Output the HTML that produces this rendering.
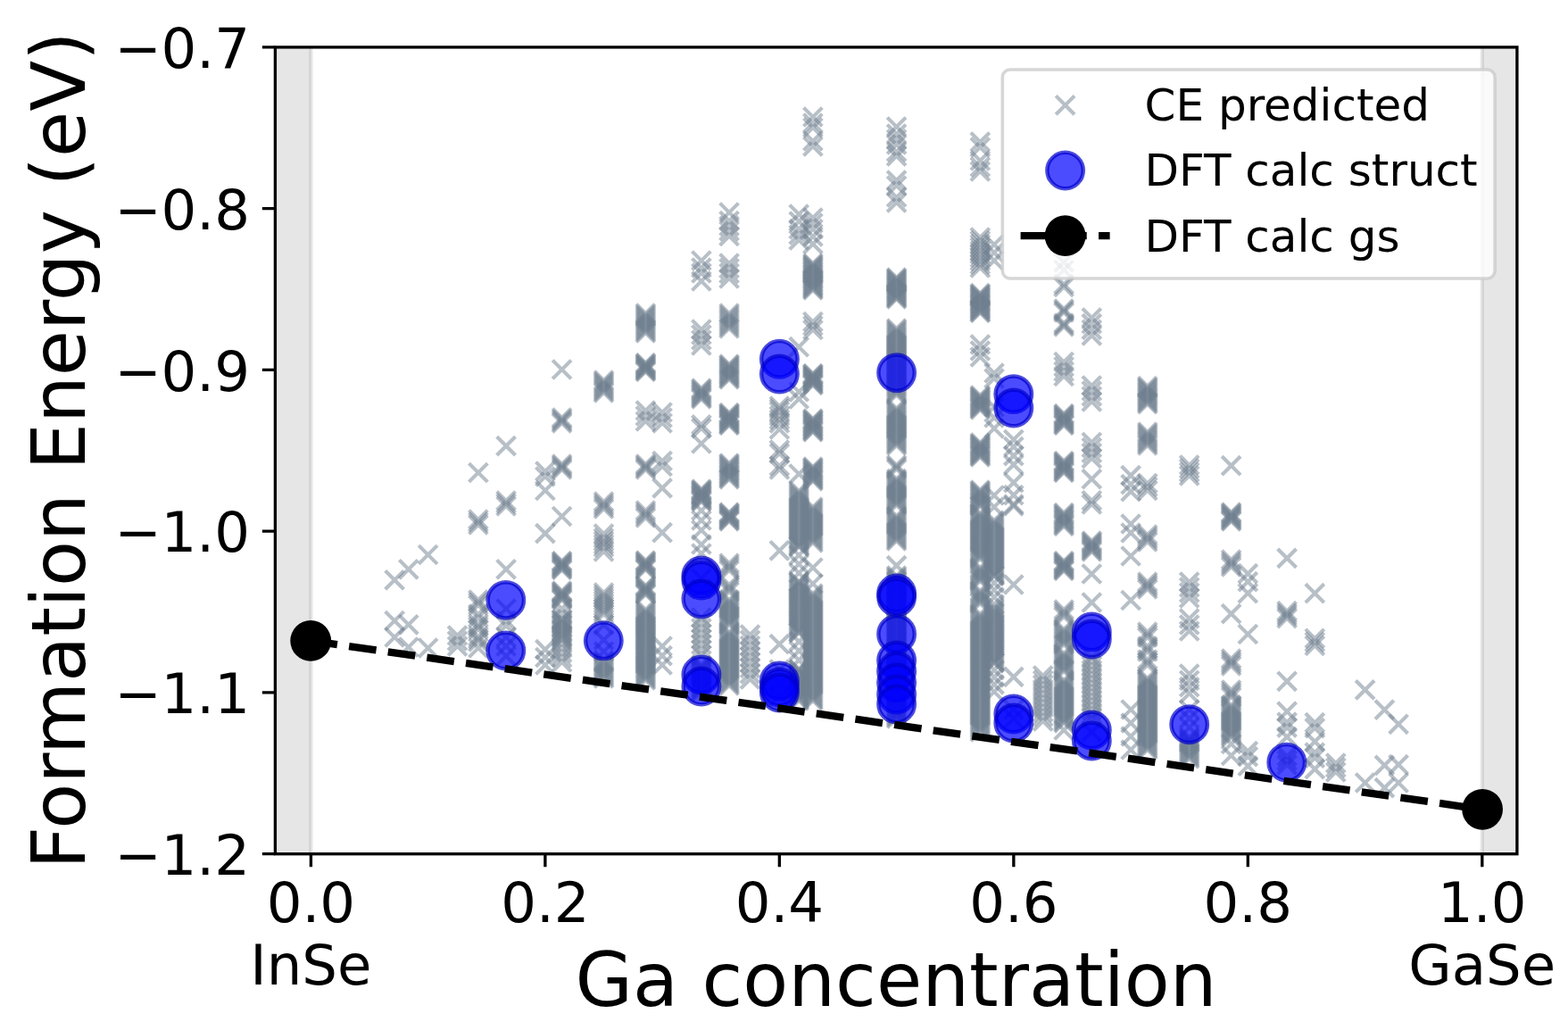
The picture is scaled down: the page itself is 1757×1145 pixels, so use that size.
<!DOCTYPE html>
<html><head><meta charset="utf-8"><title>Formation Energy vs Ga concentration</title>
<style>html,body{margin:0;padding:0;background:#fff;}svg{display:block;}</style>
</head><body>
<svg width="1757" height="1145" viewBox="0 0 1757 1145">
<defs><clipPath id="ax"><rect x="308.40" y="52.90" width="1391.50" height="903.80"/></clipPath>
<path id="m" d="M-10.4,-10.4L10.4,10.4M-10.4,10.4L10.4,-10.4"/>
</defs>
<rect width="1757" height="1145" fill="#fff"/>
<g clip-path="url(#ax)">
<rect x="303.4" y="47.9" width="45.0" height="913.8000000000001" fill="#808080" fill-opacity="0.2" stroke="#808080" stroke-opacity="0.2" stroke-width="4.17"/>
<rect x="1660.8" y="47.9" width="44.100000000000136" height="913.8000000000001" fill="#808080" fill-opacity="0.2" stroke="#808080" stroke-opacity="0.2" stroke-width="4.17"/>
<g stroke="#708090" stroke-opacity="0.5" stroke-width="4.17" fill="none">
<use href="#m" x="442.1" y="649.8"/>
<use href="#m" x="442.1" y="695.5"/>
<use href="#m" x="442.1" y="714.0"/>
<use href="#m" x="457.8" y="637.8"/>
<use href="#m" x="457.8" y="699.8"/>
<use href="#m" x="457.8" y="725.0"/>
<use href="#m" x="479.6" y="621.5"/>
<use href="#m" x="479.6" y="726.0"/>
<use href="#m" x="512.5" y="712.0"/>
<use href="#m" x="512.5" y="718.0"/>
<use href="#m" x="512.5" y="724.0"/>
<use href="#m" x="535.9" y="529.5"/>
<use href="#m" x="535.9" y="582.0"/>
<use href="#m" x="535.9" y="585.0"/>
<use href="#m" x="535.9" y="588.0"/>
<use href="#m" x="535.9" y="672.0"/>
<use href="#m" x="535.9" y="675.0"/>
<use href="#m" x="535.9" y="678.0"/>
<use href="#m" x="535.9" y="688.0"/>
<use href="#m" x="535.9" y="692.0"/>
<use href="#m" x="535.9" y="699.0"/>
<use href="#m" x="535.9" y="702.0"/>
<use href="#m" x="535.9" y="705.0"/>
<use href="#m" x="535.9" y="713.0"/>
<use href="#m" x="535.9" y="716.0"/>
<use href="#m" x="535.9" y="719.0"/>
<use href="#m" x="535.9" y="726.0"/>
<use href="#m" x="567.1" y="499.6"/>
<use href="#m" x="567.1" y="561.0"/>
<use href="#m" x="567.1" y="564.0"/>
<use href="#m" x="567.1" y="567.0"/>
<use href="#m" x="567.1" y="637.8"/>
<use href="#m" x="567.1" y="682.0"/>
<use href="#m" x="567.1" y="695.0"/>
<use href="#m" x="567.1" y="701.0"/>
<use href="#m" x="567.1" y="714.0"/>
<use href="#m" x="567.1" y="724.0"/>
<use href="#m" x="567.1" y="735.0"/>
<use href="#m" x="610.9" y="528.0"/>
<use href="#m" x="610.9" y="534.0"/>
<use href="#m" x="610.9" y="549.5"/>
<use href="#m" x="610.9" y="597.6"/>
<use href="#m" x="610.9" y="727.7"/>
<use href="#m" x="610.9" y="736.5"/>
<use href="#m" x="610.9" y="745.0"/>
<use href="#m" x="629.6" y="414.0"/>
<use href="#m" x="629.6" y="468.0"/>
<use href="#m" x="629.6" y="470.0"/>
<use href="#m" x="629.6" y="472.0"/>
<use href="#m" x="629.6" y="474.0"/>
<use href="#m" x="629.6" y="520.0"/>
<use href="#m" x="629.6" y="522.0"/>
<use href="#m" x="629.6" y="524.0"/>
<use href="#m" x="629.6" y="526.0"/>
<use href="#m" x="629.6" y="578.5"/>
<use href="#m" x="629.6" y="628.5"/>
<use href="#m" x="629.6" y="629.9"/>
<use href="#m" x="629.6" y="631.4"/>
<use href="#m" x="629.6" y="632.8"/>
<use href="#m" x="629.6" y="634.2"/>
<use href="#m" x="629.6" y="635.6"/>
<use href="#m" x="629.6" y="637.1"/>
<use href="#m" x="629.6" y="638.5"/>
<use href="#m" x="629.6" y="662.0"/>
<use href="#m" x="629.6" y="663.4"/>
<use href="#m" x="629.6" y="664.9"/>
<use href="#m" x="629.6" y="666.3"/>
<use href="#m" x="629.6" y="667.7"/>
<use href="#m" x="629.6" y="669.1"/>
<use href="#m" x="629.6" y="670.6"/>
<use href="#m" x="629.6" y="672.0"/>
<use href="#m" x="629.6" y="682.0"/>
<use href="#m" x="629.6" y="688.0"/>
<use href="#m" x="629.6" y="694.0"/>
<use href="#m" x="629.6" y="694.0"/>
<use href="#m" x="629.6" y="695.9"/>
<use href="#m" x="629.6" y="697.8"/>
<use href="#m" x="629.6" y="699.8"/>
<use href="#m" x="629.6" y="701.7"/>
<use href="#m" x="629.6" y="703.6"/>
<use href="#m" x="629.6" y="705.5"/>
<use href="#m" x="629.6" y="707.4"/>
<use href="#m" x="629.6" y="709.3"/>
<use href="#m" x="629.6" y="711.2"/>
<use href="#m" x="629.6" y="713.2"/>
<use href="#m" x="629.6" y="715.1"/>
<use href="#m" x="629.6" y="717.0"/>
<use href="#m" x="629.6" y="721.0"/>
<use href="#m" x="629.6" y="726.0"/>
<use href="#m" x="629.6" y="731.3"/>
<use href="#m" x="629.6" y="736.7"/>
<use href="#m" x="629.6" y="742.0"/>
<use href="#m" x="676.5" y="426.0"/>
<use href="#m" x="676.5" y="428.0"/>
<use href="#m" x="676.5" y="430.0"/>
<use href="#m" x="676.5" y="432.0"/>
<use href="#m" x="676.5" y="434.0"/>
<use href="#m" x="676.5" y="436.0"/>
<use href="#m" x="676.5" y="438.0"/>
<use href="#m" x="676.5" y="440.0"/>
<use href="#m" x="676.5" y="562.0"/>
<use href="#m" x="676.5" y="564.7"/>
<use href="#m" x="676.5" y="567.3"/>
<use href="#m" x="676.5" y="570.0"/>
<use href="#m" x="676.5" y="598.0"/>
<use href="#m" x="676.5" y="603.0"/>
<use href="#m" x="676.5" y="606.3"/>
<use href="#m" x="676.5" y="609.7"/>
<use href="#m" x="676.5" y="613.0"/>
<use href="#m" x="676.5" y="618.0"/>
<use href="#m" x="676.5" y="664.0"/>
<use href="#m" x="676.5" y="667.0"/>
<use href="#m" x="676.5" y="670.0"/>
<use href="#m" x="676.5" y="673.0"/>
<use href="#m" x="676.5" y="676.0"/>
<use href="#m" x="676.5" y="679.0"/>
<use href="#m" x="676.5" y="682.0"/>
<use href="#m" x="676.5" y="685.0"/>
<use href="#m" x="676.5" y="688.0"/>
<use href="#m" x="676.5" y="700.0"/>
<use href="#m" x="676.5" y="717.0"/>
<use href="#m" x="676.5" y="730.0"/>
<use href="#m" x="676.5" y="740.0"/>
<use href="#m" x="676.5" y="742.0"/>
<use href="#m" x="676.5" y="744.0"/>
<use href="#m" x="676.5" y="746.0"/>
<use href="#m" x="676.5" y="748.0"/>
<use href="#m" x="676.5" y="750.0"/>
<use href="#m" x="676.5" y="752.0"/>
<use href="#m" x="676.5" y="754.0"/>
<use href="#m" x="676.5" y="756.0"/>
<use href="#m" x="676.5" y="758.0"/>
<use href="#m" x="676.5" y="760.0"/>
<use href="#m" x="723.4" y="351.0"/>
<use href="#m" x="723.4" y="353.0"/>
<use href="#m" x="723.4" y="355.0"/>
<use href="#m" x="723.4" y="357.0"/>
<use href="#m" x="723.4" y="359.0"/>
<use href="#m" x="723.4" y="361.0"/>
<use href="#m" x="723.4" y="363.0"/>
<use href="#m" x="723.4" y="365.0"/>
<use href="#m" x="723.4" y="367.0"/>
<use href="#m" x="723.4" y="369.0"/>
<use href="#m" x="723.4" y="371.0"/>
<use href="#m" x="723.4" y="373.0"/>
<use href="#m" x="723.4" y="406.5"/>
<use href="#m" x="723.4" y="407.8"/>
<use href="#m" x="723.4" y="409.0"/>
<use href="#m" x="723.4" y="410.2"/>
<use href="#m" x="723.4" y="411.5"/>
<use href="#m" x="723.4" y="412.8"/>
<use href="#m" x="723.4" y="414.0"/>
<use href="#m" x="723.4" y="415.2"/>
<use href="#m" x="723.4" y="416.5"/>
<use href="#m" x="723.4" y="460.0"/>
<use href="#m" x="723.4" y="466.0"/>
<use href="#m" x="723.4" y="472.0"/>
<use href="#m" x="723.4" y="520.0"/>
<use href="#m" x="723.4" y="522.0"/>
<use href="#m" x="723.4" y="524.0"/>
<use href="#m" x="723.4" y="526.0"/>
<use href="#m" x="723.4" y="572.0"/>
<use href="#m" x="723.4" y="574.7"/>
<use href="#m" x="723.4" y="577.3"/>
<use href="#m" x="723.4" y="580.0"/>
<use href="#m" x="723.4" y="628.0"/>
<use href="#m" x="723.4" y="629.4"/>
<use href="#m" x="723.4" y="630.9"/>
<use href="#m" x="723.4" y="632.3"/>
<use href="#m" x="723.4" y="633.7"/>
<use href="#m" x="723.4" y="635.1"/>
<use href="#m" x="723.4" y="636.6"/>
<use href="#m" x="723.4" y="638.0"/>
<use href="#m" x="723.4" y="656.0"/>
<use href="#m" x="723.4" y="657.4"/>
<use href="#m" x="723.4" y="658.9"/>
<use href="#m" x="723.4" y="660.3"/>
<use href="#m" x="723.4" y="661.7"/>
<use href="#m" x="723.4" y="663.1"/>
<use href="#m" x="723.4" y="664.6"/>
<use href="#m" x="723.4" y="666.0"/>
<use href="#m" x="723.4" y="683.0"/>
<use href="#m" x="723.4" y="685.0"/>
<use href="#m" x="723.4" y="687.0"/>
<use href="#m" x="723.4" y="688.9"/>
<use href="#m" x="723.4" y="690.9"/>
<use href="#m" x="723.4" y="692.9"/>
<use href="#m" x="723.4" y="694.9"/>
<use href="#m" x="723.4" y="696.8"/>
<use href="#m" x="723.4" y="698.8"/>
<use href="#m" x="723.4" y="700.8"/>
<use href="#m" x="723.4" y="702.8"/>
<use href="#m" x="723.4" y="704.7"/>
<use href="#m" x="723.4" y="706.7"/>
<use href="#m" x="723.4" y="708.7"/>
<use href="#m" x="723.4" y="710.6"/>
<use href="#m" x="723.4" y="712.6"/>
<use href="#m" x="723.4" y="714.6"/>
<use href="#m" x="723.4" y="716.6"/>
<use href="#m" x="723.4" y="718.5"/>
<use href="#m" x="723.4" y="720.5"/>
<use href="#m" x="723.4" y="722.5"/>
<use href="#m" x="723.4" y="724.5"/>
<use href="#m" x="723.4" y="726.5"/>
<use href="#m" x="723.4" y="728.4"/>
<use href="#m" x="723.4" y="730.4"/>
<use href="#m" x="723.4" y="732.4"/>
<use href="#m" x="723.4" y="734.4"/>
<use href="#m" x="723.4" y="736.3"/>
<use href="#m" x="723.4" y="738.3"/>
<use href="#m" x="723.4" y="740.3"/>
<use href="#m" x="723.4" y="742.2"/>
<use href="#m" x="723.4" y="744.2"/>
<use href="#m" x="723.4" y="746.2"/>
<use href="#m" x="723.4" y="748.2"/>
<use href="#m" x="723.4" y="750.1"/>
<use href="#m" x="723.4" y="752.1"/>
<use href="#m" x="723.4" y="754.1"/>
<use href="#m" x="723.4" y="756.1"/>
<use href="#m" x="723.4" y="758.0"/>
<use href="#m" x="723.4" y="760.0"/>
<use href="#m" x="723.4" y="762.0"/>
<use href="#m" x="742.1" y="462.0"/>
<use href="#m" x="742.1" y="468.0"/>
<use href="#m" x="742.1" y="474.0"/>
<use href="#m" x="742.1" y="516.5"/>
<use href="#m" x="742.1" y="522.5"/>
<use href="#m" x="742.1" y="546.9"/>
<use href="#m" x="742.1" y="596.7"/>
<use href="#m" x="742.1" y="724.0"/>
<use href="#m" x="742.1" y="734.7"/>
<use href="#m" x="742.1" y="745.0"/>
<use href="#m" x="785.9" y="292.0"/>
<use href="#m" x="785.9" y="300.0"/>
<use href="#m" x="785.9" y="306.0"/>
<use href="#m" x="785.9" y="315.0"/>
<use href="#m" x="785.9" y="369.0"/>
<use href="#m" x="785.9" y="375.0"/>
<use href="#m" x="785.9" y="381.0"/>
<use href="#m" x="785.9" y="387.0"/>
<use href="#m" x="785.9" y="435.0"/>
<use href="#m" x="785.9" y="436.7"/>
<use href="#m" x="785.9" y="438.4"/>
<use href="#m" x="785.9" y="440.1"/>
<use href="#m" x="785.9" y="441.9"/>
<use href="#m" x="785.9" y="443.6"/>
<use href="#m" x="785.9" y="445.3"/>
<use href="#m" x="785.9" y="447.0"/>
<use href="#m" x="785.9" y="475.9"/>
<use href="#m" x="785.9" y="479.9"/>
<use href="#m" x="785.9" y="497.0"/>
<use href="#m" x="785.9" y="548.0"/>
<use href="#m" x="785.9" y="549.3"/>
<use href="#m" x="785.9" y="550.5"/>
<use href="#m" x="785.9" y="551.8"/>
<use href="#m" x="785.9" y="553.1"/>
<use href="#m" x="785.9" y="554.4"/>
<use href="#m" x="785.9" y="555.6"/>
<use href="#m" x="785.9" y="556.9"/>
<use href="#m" x="785.9" y="558.2"/>
<use href="#m" x="785.9" y="559.5"/>
<use href="#m" x="785.9" y="560.7"/>
<use href="#m" x="785.9" y="562.0"/>
<use href="#m" x="785.9" y="572.0"/>
<use href="#m" x="785.9" y="583.0"/>
<use href="#m" x="785.9" y="594.0"/>
<use href="#m" x="785.9" y="610.0"/>
<use href="#m" x="785.9" y="620.0"/>
<use href="#m" x="785.9" y="648.0"/>
<use href="#m" x="785.9" y="660.0"/>
<use href="#m" x="785.9" y="692.0"/>
<use href="#m" x="785.9" y="698.0"/>
<use href="#m" x="785.9" y="704.0"/>
<use href="#m" x="785.9" y="710.0"/>
<use href="#m" x="785.9" y="716.0"/>
<use href="#m" x="785.9" y="722.0"/>
<use href="#m" x="785.9" y="728.0"/>
<use href="#m" x="785.9" y="734.0"/>
<use href="#m" x="785.9" y="745.0"/>
<use href="#m" x="785.9" y="747.0"/>
<use href="#m" x="785.9" y="749.0"/>
<use href="#m" x="785.9" y="751.0"/>
<use href="#m" x="785.9" y="753.0"/>
<use href="#m" x="785.9" y="755.0"/>
<use href="#m" x="785.9" y="757.0"/>
<use href="#m" x="785.9" y="759.0"/>
<use href="#m" x="785.9" y="761.0"/>
<use href="#m" x="785.9" y="763.0"/>
<use href="#m" x="785.9" y="765.0"/>
<use href="#m" x="785.9" y="767.0"/>
<use href="#m" x="785.9" y="769.0"/>
<use href="#m" x="785.9" y="771.0"/>
<use href="#m" x="785.9" y="773.0"/>
<use href="#m" x="785.9" y="775.0"/>
<use href="#m" x="817.1" y="238.0"/>
<use href="#m" x="817.1" y="247.5"/>
<use href="#m" x="817.1" y="253.2"/>
<use href="#m" x="817.1" y="258.8"/>
<use href="#m" x="817.1" y="264.5"/>
<use href="#m" x="817.1" y="295.0"/>
<use href="#m" x="817.1" y="300.7"/>
<use href="#m" x="817.1" y="306.3"/>
<use href="#m" x="817.1" y="312.0"/>
<use href="#m" x="817.1" y="351.0"/>
<use href="#m" x="817.1" y="353.4"/>
<use href="#m" x="817.1" y="355.9"/>
<use href="#m" x="817.1" y="358.3"/>
<use href="#m" x="817.1" y="360.7"/>
<use href="#m" x="817.1" y="363.1"/>
<use href="#m" x="817.1" y="365.6"/>
<use href="#m" x="817.1" y="368.0"/>
<use href="#m" x="817.1" y="408.0"/>
<use href="#m" x="817.1" y="409.5"/>
<use href="#m" x="817.1" y="411.1"/>
<use href="#m" x="817.1" y="412.6"/>
<use href="#m" x="817.1" y="414.2"/>
<use href="#m" x="817.1" y="415.7"/>
<use href="#m" x="817.1" y="417.3"/>
<use href="#m" x="817.1" y="418.8"/>
<use href="#m" x="817.1" y="420.4"/>
<use href="#m" x="817.1" y="421.9"/>
<use href="#m" x="817.1" y="423.5"/>
<use href="#m" x="817.1" y="425.0"/>
<use href="#m" x="817.1" y="462.5"/>
<use href="#m" x="817.1" y="463.8"/>
<use href="#m" x="817.1" y="465.0"/>
<use href="#m" x="817.1" y="466.3"/>
<use href="#m" x="817.1" y="467.6"/>
<use href="#m" x="817.1" y="468.9"/>
<use href="#m" x="817.1" y="470.1"/>
<use href="#m" x="817.1" y="471.4"/>
<use href="#m" x="817.1" y="472.7"/>
<use href="#m" x="817.1" y="474.0"/>
<use href="#m" x="817.1" y="475.2"/>
<use href="#m" x="817.1" y="476.5"/>
<use href="#m" x="817.1" y="519.0"/>
<use href="#m" x="817.1" y="520.6"/>
<use href="#m" x="817.1" y="522.3"/>
<use href="#m" x="817.1" y="523.9"/>
<use href="#m" x="817.1" y="525.5"/>
<use href="#m" x="817.1" y="527.2"/>
<use href="#m" x="817.1" y="528.8"/>
<use href="#m" x="817.1" y="530.5"/>
<use href="#m" x="817.1" y="532.1"/>
<use href="#m" x="817.1" y="533.7"/>
<use href="#m" x="817.1" y="535.4"/>
<use href="#m" x="817.1" y="537.0"/>
<use href="#m" x="817.1" y="574.0"/>
<use href="#m" x="817.1" y="575.2"/>
<use href="#m" x="817.1" y="576.5"/>
<use href="#m" x="817.1" y="577.8"/>
<use href="#m" x="817.1" y="579.0"/>
<use href="#m" x="817.1" y="580.2"/>
<use href="#m" x="817.1" y="581.5"/>
<use href="#m" x="817.1" y="582.8"/>
<use href="#m" x="817.1" y="584.0"/>
<use href="#m" x="817.1" y="631.0"/>
<use href="#m" x="817.1" y="633.7"/>
<use href="#m" x="817.1" y="636.3"/>
<use href="#m" x="817.1" y="639.0"/>
<use href="#m" x="817.1" y="655.0"/>
<use href="#m" x="817.1" y="657.7"/>
<use href="#m" x="817.1" y="660.3"/>
<use href="#m" x="817.1" y="663.0"/>
<use href="#m" x="817.1" y="672.0"/>
<use href="#m" x="817.1" y="674.0"/>
<use href="#m" x="817.1" y="676.0"/>
<use href="#m" x="817.1" y="678.0"/>
<use href="#m" x="817.1" y="680.0"/>
<use href="#m" x="817.1" y="682.0"/>
<use href="#m" x="817.1" y="684.0"/>
<use href="#m" x="817.1" y="686.0"/>
<use href="#m" x="817.1" y="688.0"/>
<use href="#m" x="817.1" y="690.0"/>
<use href="#m" x="817.1" y="692.0"/>
<use href="#m" x="817.1" y="694.0"/>
<use href="#m" x="817.1" y="696.0"/>
<use href="#m" x="817.1" y="698.0"/>
<use href="#m" x="817.1" y="700.0"/>
<use href="#m" x="817.1" y="708.0"/>
<use href="#m" x="817.1" y="710.0"/>
<use href="#m" x="817.1" y="712.0"/>
<use href="#m" x="817.1" y="714.0"/>
<use href="#m" x="817.1" y="716.0"/>
<use href="#m" x="817.1" y="718.0"/>
<use href="#m" x="817.1" y="720.0"/>
<use href="#m" x="817.1" y="722.0"/>
<use href="#m" x="817.1" y="724.0"/>
<use href="#m" x="817.1" y="726.0"/>
<use href="#m" x="817.1" y="728.0"/>
<use href="#m" x="817.1" y="730.0"/>
<use href="#m" x="817.1" y="732.0"/>
<use href="#m" x="817.1" y="734.0"/>
<use href="#m" x="817.1" y="736.0"/>
<use href="#m" x="817.1" y="738.0"/>
<use href="#m" x="817.1" y="740.0"/>
<use href="#m" x="817.1" y="742.0"/>
<use href="#m" x="817.1" y="744.0"/>
<use href="#m" x="817.1" y="746.0"/>
<use href="#m" x="817.1" y="748.0"/>
<use href="#m" x="817.1" y="750.0"/>
<use href="#m" x="817.1" y="752.0"/>
<use href="#m" x="817.1" y="754.0"/>
<use href="#m" x="817.1" y="756.0"/>
<use href="#m" x="817.1" y="758.0"/>
<use href="#m" x="817.1" y="760.0"/>
<use href="#m" x="817.1" y="762.0"/>
<use href="#m" x="817.1" y="764.0"/>
<use href="#m" x="817.1" y="766.0"/>
<use href="#m" x="817.1" y="768.0"/>
<use href="#m" x="840.5" y="711.0"/>
<use href="#m" x="840.5" y="717.2"/>
<use href="#m" x="840.5" y="723.5"/>
<use href="#m" x="840.5" y="729.8"/>
<use href="#m" x="840.5" y="736.0"/>
<use href="#m" x="840.5" y="742.2"/>
<use href="#m" x="840.5" y="748.5"/>
<use href="#m" x="840.5" y="754.8"/>
<use href="#m" x="840.5" y="761.0"/>
<use href="#m" x="873.4" y="455.0"/>
<use href="#m" x="873.4" y="458.0"/>
<use href="#m" x="873.4" y="461.0"/>
<use href="#m" x="873.4" y="466.0"/>
<use href="#m" x="873.4" y="470.0"/>
<use href="#m" x="873.4" y="474.0"/>
<use href="#m" x="873.4" y="481.0"/>
<use href="#m" x="873.4" y="504.0"/>
<use href="#m" x="873.4" y="508.0"/>
<use href="#m" x="873.4" y="522.0"/>
<use href="#m" x="873.4" y="526.0"/>
<use href="#m" x="873.4" y="616.8"/>
<use href="#m" x="873.4" y="721.6"/>
<use href="#m" x="873.4" y="750.0"/>
<use href="#m" x="873.4" y="765.0"/>
<use href="#m" x="873.4" y="780.0"/>
<use href="#m" x="895.2" y="240.0"/>
<use href="#m" x="895.2" y="248.0"/>
<use href="#m" x="895.2" y="256.7"/>
<use href="#m" x="895.2" y="263.0"/>
<use href="#m" x="895.2" y="269.0"/>
<use href="#m" x="895.2" y="388.7"/>
<use href="#m" x="895.2" y="439.0"/>
<use href="#m" x="895.2" y="447.0"/>
<use href="#m" x="895.2" y="531.0"/>
<use href="#m" x="895.2" y="550.0"/>
<use href="#m" x="895.2" y="552.0"/>
<use href="#m" x="895.2" y="554.0"/>
<use href="#m" x="895.2" y="556.0"/>
<use href="#m" x="895.2" y="558.0"/>
<use href="#m" x="895.2" y="560.0"/>
<use href="#m" x="895.2" y="562.0"/>
<use href="#m" x="895.2" y="564.0"/>
<use href="#m" x="895.2" y="566.0"/>
<use href="#m" x="895.2" y="568.0"/>
<use href="#m" x="895.2" y="570.0"/>
<use href="#m" x="895.2" y="572.0"/>
<use href="#m" x="895.2" y="574.0"/>
<use href="#m" x="895.2" y="576.0"/>
<use href="#m" x="895.2" y="578.0"/>
<use href="#m" x="895.2" y="580.0"/>
<use href="#m" x="895.2" y="582.0"/>
<use href="#m" x="895.2" y="584.0"/>
<use href="#m" x="895.2" y="586.0"/>
<use href="#m" x="895.2" y="588.0"/>
<use href="#m" x="895.2" y="590.0"/>
<use href="#m" x="895.2" y="592.0"/>
<use href="#m" x="895.2" y="594.0"/>
<use href="#m" x="895.2" y="596.0"/>
<use href="#m" x="895.2" y="598.0"/>
<use href="#m" x="895.2" y="600.0"/>
<use href="#m" x="895.2" y="602.0"/>
<use href="#m" x="895.2" y="604.0"/>
<use href="#m" x="895.2" y="606.0"/>
<use href="#m" x="895.2" y="608.0"/>
<use href="#m" x="895.2" y="610.0"/>
<use href="#m" x="895.2" y="612.0"/>
<use href="#m" x="895.2" y="612.0"/>
<use href="#m" x="895.2" y="622.0"/>
<use href="#m" x="895.2" y="632.0"/>
<use href="#m" x="895.2" y="642.0"/>
<use href="#m" x="895.2" y="652.0"/>
<use href="#m" x="895.2" y="652.0"/>
<use href="#m" x="895.2" y="654.0"/>
<use href="#m" x="895.2" y="656.0"/>
<use href="#m" x="895.2" y="658.1"/>
<use href="#m" x="895.2" y="660.1"/>
<use href="#m" x="895.2" y="662.1"/>
<use href="#m" x="895.2" y="664.1"/>
<use href="#m" x="895.2" y="666.1"/>
<use href="#m" x="895.2" y="668.1"/>
<use href="#m" x="895.2" y="670.2"/>
<use href="#m" x="895.2" y="672.2"/>
<use href="#m" x="895.2" y="674.2"/>
<use href="#m" x="895.2" y="676.2"/>
<use href="#m" x="895.2" y="678.2"/>
<use href="#m" x="895.2" y="680.2"/>
<use href="#m" x="895.2" y="682.3"/>
<use href="#m" x="895.2" y="684.3"/>
<use href="#m" x="895.2" y="686.3"/>
<use href="#m" x="895.2" y="688.3"/>
<use href="#m" x="895.2" y="690.3"/>
<use href="#m" x="895.2" y="692.4"/>
<use href="#m" x="895.2" y="694.4"/>
<use href="#m" x="895.2" y="696.4"/>
<use href="#m" x="895.2" y="698.4"/>
<use href="#m" x="895.2" y="700.4"/>
<use href="#m" x="895.2" y="702.4"/>
<use href="#m" x="895.2" y="704.5"/>
<use href="#m" x="895.2" y="706.5"/>
<use href="#m" x="895.2" y="708.5"/>
<use href="#m" x="895.2" y="708.5"/>
<use href="#m" x="895.2" y="718.9"/>
<use href="#m" x="895.2" y="729.2"/>
<use href="#m" x="895.2" y="739.6"/>
<use href="#m" x="895.2" y="750.0"/>
<use href="#m" x="895.2" y="750.0"/>
<use href="#m" x="895.2" y="751.9"/>
<use href="#m" x="895.2" y="753.9"/>
<use href="#m" x="895.2" y="755.8"/>
<use href="#m" x="895.2" y="757.8"/>
<use href="#m" x="895.2" y="759.7"/>
<use href="#m" x="895.2" y="761.7"/>
<use href="#m" x="895.2" y="763.6"/>
<use href="#m" x="895.2" y="765.6"/>
<use href="#m" x="895.2" y="767.5"/>
<use href="#m" x="895.2" y="769.4"/>
<use href="#m" x="895.2" y="771.4"/>
<use href="#m" x="895.2" y="773.3"/>
<use href="#m" x="895.2" y="775.3"/>
<use href="#m" x="895.2" y="777.2"/>
<use href="#m" x="895.2" y="779.2"/>
<use href="#m" x="895.2" y="781.1"/>
<use href="#m" x="895.2" y="783.1"/>
<use href="#m" x="895.2" y="785.0"/>
<use href="#m" x="910.9" y="131.0"/>
<use href="#m" x="910.9" y="138.0"/>
<use href="#m" x="910.9" y="143.0"/>
<use href="#m" x="910.9" y="158.0"/>
<use href="#m" x="910.9" y="164.0"/>
<use href="#m" x="910.9" y="244.0"/>
<use href="#m" x="910.9" y="250.0"/>
<use href="#m" x="910.9" y="256.7"/>
<use href="#m" x="910.9" y="265.0"/>
<use href="#m" x="910.9" y="273.4"/>
<use href="#m" x="910.9" y="295.0"/>
<use href="#m" x="910.9" y="296.6"/>
<use href="#m" x="910.9" y="298.2"/>
<use href="#m" x="910.9" y="299.7"/>
<use href="#m" x="910.9" y="301.3"/>
<use href="#m" x="910.9" y="302.9"/>
<use href="#m" x="910.9" y="304.5"/>
<use href="#m" x="910.9" y="306.1"/>
<use href="#m" x="910.9" y="307.6"/>
<use href="#m" x="910.9" y="309.2"/>
<use href="#m" x="910.9" y="310.8"/>
<use href="#m" x="910.9" y="312.4"/>
<use href="#m" x="910.9" y="313.9"/>
<use href="#m" x="910.9" y="315.5"/>
<use href="#m" x="910.9" y="317.1"/>
<use href="#m" x="910.9" y="318.7"/>
<use href="#m" x="910.9" y="320.3"/>
<use href="#m" x="910.9" y="321.8"/>
<use href="#m" x="910.9" y="323.4"/>
<use href="#m" x="910.9" y="325.0"/>
<use href="#m" x="910.9" y="360.5"/>
<use href="#m" x="910.9" y="365.0"/>
<use href="#m" x="910.9" y="369.5"/>
<use href="#m" x="910.9" y="418.5"/>
<use href="#m" x="910.9" y="419.7"/>
<use href="#m" x="910.9" y="420.9"/>
<use href="#m" x="910.9" y="422.0"/>
<use href="#m" x="910.9" y="423.2"/>
<use href="#m" x="910.9" y="424.4"/>
<use href="#m" x="910.9" y="425.6"/>
<use href="#m" x="910.9" y="426.8"/>
<use href="#m" x="910.9" y="428.0"/>
<use href="#m" x="910.9" y="429.1"/>
<use href="#m" x="910.9" y="430.3"/>
<use href="#m" x="910.9" y="431.5"/>
<use href="#m" x="910.9" y="469.0"/>
<use href="#m" x="910.9" y="470.4"/>
<use href="#m" x="910.9" y="471.7"/>
<use href="#m" x="910.9" y="473.1"/>
<use href="#m" x="910.9" y="474.5"/>
<use href="#m" x="910.9" y="475.8"/>
<use href="#m" x="910.9" y="477.2"/>
<use href="#m" x="910.9" y="478.5"/>
<use href="#m" x="910.9" y="479.9"/>
<use href="#m" x="910.9" y="481.3"/>
<use href="#m" x="910.9" y="482.6"/>
<use href="#m" x="910.9" y="484.0"/>
<use href="#m" x="910.9" y="523.0"/>
<use href="#m" x="910.9" y="524.5"/>
<use href="#m" x="910.9" y="525.9"/>
<use href="#m" x="910.9" y="527.4"/>
<use href="#m" x="910.9" y="528.8"/>
<use href="#m" x="910.9" y="530.3"/>
<use href="#m" x="910.9" y="531.7"/>
<use href="#m" x="910.9" y="533.2"/>
<use href="#m" x="910.9" y="534.6"/>
<use href="#m" x="910.9" y="536.1"/>
<use href="#m" x="910.9" y="537.5"/>
<use href="#m" x="910.9" y="539.0"/>
<use href="#m" x="910.9" y="568.0"/>
<use href="#m" x="910.9" y="570.0"/>
<use href="#m" x="910.9" y="572.0"/>
<use href="#m" x="910.9" y="574.0"/>
<use href="#m" x="910.9" y="576.0"/>
<use href="#m" x="910.9" y="578.0"/>
<use href="#m" x="910.9" y="580.0"/>
<use href="#m" x="910.9" y="582.0"/>
<use href="#m" x="910.9" y="584.0"/>
<use href="#m" x="910.9" y="586.0"/>
<use href="#m" x="910.9" y="588.0"/>
<use href="#m" x="910.9" y="590.0"/>
<use href="#m" x="910.9" y="592.0"/>
<use href="#m" x="910.9" y="594.0"/>
<use href="#m" x="910.9" y="596.0"/>
<use href="#m" x="910.9" y="598.0"/>
<use href="#m" x="910.9" y="600.0"/>
<use href="#m" x="910.9" y="602.0"/>
<use href="#m" x="910.9" y="604.0"/>
<use href="#m" x="910.9" y="606.0"/>
<use href="#m" x="910.9" y="608.0"/>
<use href="#m" x="910.9" y="636.0"/>
<use href="#m" x="910.9" y="654.0"/>
<use href="#m" x="910.9" y="665.0"/>
<use href="#m" x="910.9" y="667.0"/>
<use href="#m" x="910.9" y="669.0"/>
<use href="#m" x="910.9" y="671.0"/>
<use href="#m" x="910.9" y="673.0"/>
<use href="#m" x="910.9" y="675.0"/>
<use href="#m" x="910.9" y="677.0"/>
<use href="#m" x="910.9" y="679.0"/>
<use href="#m" x="910.9" y="681.0"/>
<use href="#m" x="910.9" y="683.0"/>
<use href="#m" x="910.9" y="685.0"/>
<use href="#m" x="910.9" y="687.0"/>
<use href="#m" x="910.9" y="689.0"/>
<use href="#m" x="910.9" y="691.0"/>
<use href="#m" x="910.9" y="693.0"/>
<use href="#m" x="910.9" y="695.0"/>
<use href="#m" x="910.9" y="697.0"/>
<use href="#m" x="910.9" y="699.0"/>
<use href="#m" x="910.9" y="701.0"/>
<use href="#m" x="910.9" y="703.0"/>
<use href="#m" x="910.9" y="705.0"/>
<use href="#m" x="910.9" y="707.0"/>
<use href="#m" x="910.9" y="709.0"/>
<use href="#m" x="910.9" y="711.0"/>
<use href="#m" x="910.9" y="713.0"/>
<use href="#m" x="910.9" y="715.0"/>
<use href="#m" x="910.9" y="717.0"/>
<use href="#m" x="910.9" y="719.0"/>
<use href="#m" x="910.9" y="721.0"/>
<use href="#m" x="910.9" y="723.0"/>
<use href="#m" x="910.9" y="725.0"/>
<use href="#m" x="910.9" y="727.0"/>
<use href="#m" x="910.9" y="729.0"/>
<use href="#m" x="910.9" y="731.0"/>
<use href="#m" x="910.9" y="733.0"/>
<use href="#m" x="910.9" y="735.0"/>
<use href="#m" x="910.9" y="737.0"/>
<use href="#m" x="910.9" y="739.0"/>
<use href="#m" x="910.9" y="741.0"/>
<use href="#m" x="910.9" y="743.0"/>
<use href="#m" x="910.9" y="745.0"/>
<use href="#m" x="910.9" y="747.0"/>
<use href="#m" x="910.9" y="749.0"/>
<use href="#m" x="910.9" y="751.0"/>
<use href="#m" x="910.9" y="753.0"/>
<use href="#m" x="910.9" y="755.0"/>
<use href="#m" x="910.9" y="757.0"/>
<use href="#m" x="910.9" y="759.0"/>
<use href="#m" x="910.9" y="761.0"/>
<use href="#m" x="910.9" y="763.0"/>
<use href="#m" x="910.9" y="765.0"/>
<use href="#m" x="910.9" y="767.0"/>
<use href="#m" x="910.9" y="769.0"/>
<use href="#m" x="910.9" y="771.0"/>
<use href="#m" x="910.9" y="773.0"/>
<use href="#m" x="910.9" y="775.0"/>
<use href="#m" x="910.9" y="777.0"/>
<use href="#m" x="910.9" y="779.0"/>
<use href="#m" x="910.9" y="781.0"/>
<use href="#m" x="910.9" y="783.0"/>
<use href="#m" x="910.9" y="785.0"/>
<use href="#m" x="1004.6" y="142.0"/>
<use href="#m" x="1004.6" y="150.0"/>
<use href="#m" x="1004.6" y="156.0"/>
<use href="#m" x="1004.6" y="162.0"/>
<use href="#m" x="1004.6" y="170.0"/>
<use href="#m" x="1004.6" y="175.0"/>
<use href="#m" x="1004.6" y="202.0"/>
<use href="#m" x="1004.6" y="208.0"/>
<use href="#m" x="1004.6" y="221.0"/>
<use href="#m" x="1004.6" y="227.0"/>
<use href="#m" x="1004.6" y="311.0"/>
<use href="#m" x="1004.6" y="312.4"/>
<use href="#m" x="1004.6" y="313.8"/>
<use href="#m" x="1004.6" y="315.2"/>
<use href="#m" x="1004.6" y="316.6"/>
<use href="#m" x="1004.6" y="318.1"/>
<use href="#m" x="1004.6" y="319.5"/>
<use href="#m" x="1004.6" y="320.9"/>
<use href="#m" x="1004.6" y="322.3"/>
<use href="#m" x="1004.6" y="323.7"/>
<use href="#m" x="1004.6" y="325.1"/>
<use href="#m" x="1004.6" y="326.5"/>
<use href="#m" x="1004.6" y="327.9"/>
<use href="#m" x="1004.6" y="329.4"/>
<use href="#m" x="1004.6" y="330.8"/>
<use href="#m" x="1004.6" y="332.2"/>
<use href="#m" x="1004.6" y="333.6"/>
<use href="#m" x="1004.6" y="335.0"/>
<use href="#m" x="1004.6" y="368.0"/>
<use href="#m" x="1004.6" y="370.0"/>
<use href="#m" x="1004.6" y="372.0"/>
<use href="#m" x="1004.6" y="374.0"/>
<use href="#m" x="1004.6" y="376.1"/>
<use href="#m" x="1004.6" y="378.1"/>
<use href="#m" x="1004.6" y="380.1"/>
<use href="#m" x="1004.6" y="382.1"/>
<use href="#m" x="1004.6" y="384.1"/>
<use href="#m" x="1004.6" y="386.1"/>
<use href="#m" x="1004.6" y="388.1"/>
<use href="#m" x="1004.6" y="390.1"/>
<use href="#m" x="1004.6" y="392.2"/>
<use href="#m" x="1004.6" y="394.2"/>
<use href="#m" x="1004.6" y="396.2"/>
<use href="#m" x="1004.6" y="398.2"/>
<use href="#m" x="1004.6" y="400.2"/>
<use href="#m" x="1004.6" y="402.2"/>
<use href="#m" x="1004.6" y="404.2"/>
<use href="#m" x="1004.6" y="406.3"/>
<use href="#m" x="1004.6" y="408.3"/>
<use href="#m" x="1004.6" y="410.3"/>
<use href="#m" x="1004.6" y="412.3"/>
<use href="#m" x="1004.6" y="414.3"/>
<use href="#m" x="1004.6" y="416.3"/>
<use href="#m" x="1004.6" y="418.3"/>
<use href="#m" x="1004.6" y="420.4"/>
<use href="#m" x="1004.6" y="422.4"/>
<use href="#m" x="1004.6" y="424.4"/>
<use href="#m" x="1004.6" y="426.4"/>
<use href="#m" x="1004.6" y="428.4"/>
<use href="#m" x="1004.6" y="430.4"/>
<use href="#m" x="1004.6" y="432.4"/>
<use href="#m" x="1004.6" y="434.4"/>
<use href="#m" x="1004.6" y="436.5"/>
<use href="#m" x="1004.6" y="438.5"/>
<use href="#m" x="1004.6" y="440.5"/>
<use href="#m" x="1004.6" y="442.5"/>
<use href="#m" x="1004.6" y="457.5"/>
<use href="#m" x="1004.6" y="459.5"/>
<use href="#m" x="1004.6" y="461.5"/>
<use href="#m" x="1004.6" y="463.4"/>
<use href="#m" x="1004.6" y="465.4"/>
<use href="#m" x="1004.6" y="467.4"/>
<use href="#m" x="1004.6" y="469.4"/>
<use href="#m" x="1004.6" y="471.3"/>
<use href="#m" x="1004.6" y="473.3"/>
<use href="#m" x="1004.6" y="475.3"/>
<use href="#m" x="1004.6" y="477.3"/>
<use href="#m" x="1004.6" y="479.2"/>
<use href="#m" x="1004.6" y="481.2"/>
<use href="#m" x="1004.6" y="483.2"/>
<use href="#m" x="1004.6" y="485.2"/>
<use href="#m" x="1004.6" y="487.1"/>
<use href="#m" x="1004.6" y="489.1"/>
<use href="#m" x="1004.6" y="491.1"/>
<use href="#m" x="1004.6" y="493.1"/>
<use href="#m" x="1004.6" y="495.0"/>
<use href="#m" x="1004.6" y="497.0"/>
<use href="#m" x="1004.6" y="499.0"/>
<use href="#m" x="1004.6" y="521.0"/>
<use href="#m" x="1004.6" y="523.2"/>
<use href="#m" x="1004.6" y="525.5"/>
<use href="#m" x="1004.6" y="536.5"/>
<use href="#m" x="1004.6" y="538.5"/>
<use href="#m" x="1004.6" y="540.4"/>
<use href="#m" x="1004.6" y="542.4"/>
<use href="#m" x="1004.6" y="544.4"/>
<use href="#m" x="1004.6" y="546.3"/>
<use href="#m" x="1004.6" y="548.3"/>
<use href="#m" x="1004.6" y="550.3"/>
<use href="#m" x="1004.6" y="552.2"/>
<use href="#m" x="1004.6" y="554.2"/>
<use href="#m" x="1004.6" y="556.2"/>
<use href="#m" x="1004.6" y="558.1"/>
<use href="#m" x="1004.6" y="560.1"/>
<use href="#m" x="1004.6" y="562.1"/>
<use href="#m" x="1004.6" y="564.0"/>
<use href="#m" x="1004.6" y="566.0"/>
<use href="#m" x="1004.6" y="578.0"/>
<use href="#m" x="1004.6" y="580.0"/>
<use href="#m" x="1004.6" y="582.0"/>
<use href="#m" x="1004.6" y="584.0"/>
<use href="#m" x="1004.6" y="586.0"/>
<use href="#m" x="1004.6" y="588.0"/>
<use href="#m" x="1004.6" y="590.0"/>
<use href="#m" x="1004.6" y="592.0"/>
<use href="#m" x="1004.6" y="594.0"/>
<use href="#m" x="1004.6" y="596.0"/>
<use href="#m" x="1004.6" y="598.0"/>
<use href="#m" x="1004.6" y="600.0"/>
<use href="#m" x="1004.6" y="602.0"/>
<use href="#m" x="1004.6" y="604.0"/>
<use href="#m" x="1004.6" y="606.0"/>
<use href="#m" x="1004.6" y="633.6"/>
<use href="#m" x="1004.6" y="645.0"/>
<use href="#m" x="1004.6" y="647.0"/>
<use href="#m" x="1004.6" y="649.0"/>
<use href="#m" x="1004.6" y="651.0"/>
<use href="#m" x="1004.6" y="653.0"/>
<use href="#m" x="1004.6" y="655.0"/>
<use href="#m" x="1004.6" y="657.0"/>
<use href="#m" x="1004.6" y="659.0"/>
<use href="#m" x="1004.6" y="661.0"/>
<use href="#m" x="1004.6" y="663.0"/>
<use href="#m" x="1004.6" y="665.0"/>
<use href="#m" x="1004.6" y="667.0"/>
<use href="#m" x="1004.6" y="669.0"/>
<use href="#m" x="1004.6" y="671.0"/>
<use href="#m" x="1004.6" y="673.0"/>
<use href="#m" x="1004.6" y="675.0"/>
<use href="#m" x="1004.6" y="677.0"/>
<use href="#m" x="1004.6" y="679.0"/>
<use href="#m" x="1004.6" y="681.0"/>
<use href="#m" x="1004.6" y="683.0"/>
<use href="#m" x="1004.6" y="685.0"/>
<use href="#m" x="1004.6" y="687.0"/>
<use href="#m" x="1004.6" y="689.0"/>
<use href="#m" x="1004.6" y="691.0"/>
<use href="#m" x="1004.6" y="693.0"/>
<use href="#m" x="1004.6" y="695.0"/>
<use href="#m" x="1004.6" y="697.0"/>
<use href="#m" x="1004.6" y="699.0"/>
<use href="#m" x="1004.6" y="701.0"/>
<use href="#m" x="1004.6" y="703.0"/>
<use href="#m" x="1004.6" y="705.0"/>
<use href="#m" x="1004.6" y="707.0"/>
<use href="#m" x="1004.6" y="709.0"/>
<use href="#m" x="1004.6" y="711.0"/>
<use href="#m" x="1004.6" y="713.0"/>
<use href="#m" x="1004.6" y="715.0"/>
<use href="#m" x="1004.6" y="717.0"/>
<use href="#m" x="1004.6" y="719.0"/>
<use href="#m" x="1004.6" y="721.0"/>
<use href="#m" x="1004.6" y="723.0"/>
<use href="#m" x="1004.6" y="725.0"/>
<use href="#m" x="1004.6" y="727.0"/>
<use href="#m" x="1004.6" y="729.0"/>
<use href="#m" x="1004.6" y="731.0"/>
<use href="#m" x="1004.6" y="733.0"/>
<use href="#m" x="1004.6" y="735.0"/>
<use href="#m" x="1004.6" y="737.0"/>
<use href="#m" x="1004.6" y="739.0"/>
<use href="#m" x="1004.6" y="741.0"/>
<use href="#m" x="1004.6" y="743.0"/>
<use href="#m" x="1004.6" y="745.0"/>
<use href="#m" x="1004.6" y="747.0"/>
<use href="#m" x="1004.6" y="749.0"/>
<use href="#m" x="1004.6" y="751.0"/>
<use href="#m" x="1004.6" y="753.0"/>
<use href="#m" x="1004.6" y="755.0"/>
<use href="#m" x="1004.6" y="757.0"/>
<use href="#m" x="1004.6" y="759.0"/>
<use href="#m" x="1004.6" y="761.0"/>
<use href="#m" x="1004.6" y="763.0"/>
<use href="#m" x="1004.6" y="765.0"/>
<use href="#m" x="1004.6" y="767.0"/>
<use href="#m" x="1004.6" y="769.0"/>
<use href="#m" x="1004.6" y="771.0"/>
<use href="#m" x="1004.6" y="773.0"/>
<use href="#m" x="1004.6" y="775.0"/>
<use href="#m" x="1004.6" y="777.0"/>
<use href="#m" x="1004.6" y="779.0"/>
<use href="#m" x="1004.6" y="781.0"/>
<use href="#m" x="1004.6" y="783.0"/>
<use href="#m" x="1004.6" y="785.0"/>
<use href="#m" x="1004.6" y="787.0"/>
<use href="#m" x="1004.6" y="789.0"/>
<use href="#m" x="1004.6" y="791.0"/>
<use href="#m" x="1004.6" y="793.0"/>
<use href="#m" x="1004.6" y="795.0"/>
<use href="#m" x="1004.6" y="797.0"/>
<use href="#m" x="1004.6" y="799.0"/>
<use href="#m" x="1004.6" y="801.0"/>
<use href="#m" x="1004.6" y="803.0"/>
<use href="#m" x="1004.6" y="805.0"/>
<use href="#m" x="1098.3" y="159.0"/>
<use href="#m" x="1098.3" y="165.0"/>
<use href="#m" x="1098.3" y="180.0"/>
<use href="#m" x="1098.3" y="187.0"/>
<use href="#m" x="1098.3" y="192.0"/>
<use href="#m" x="1098.3" y="266.0"/>
<use href="#m" x="1098.3" y="269.8"/>
<use href="#m" x="1098.3" y="273.6"/>
<use href="#m" x="1098.3" y="277.3"/>
<use href="#m" x="1098.3" y="281.1"/>
<use href="#m" x="1098.3" y="284.9"/>
<use href="#m" x="1098.3" y="288.7"/>
<use href="#m" x="1098.3" y="292.4"/>
<use href="#m" x="1098.3" y="296.2"/>
<use href="#m" x="1098.3" y="300.0"/>
<use href="#m" x="1098.3" y="328.5"/>
<use href="#m" x="1098.3" y="329.8"/>
<use href="#m" x="1098.3" y="331.1"/>
<use href="#m" x="1098.3" y="332.4"/>
<use href="#m" x="1098.3" y="333.7"/>
<use href="#m" x="1098.3" y="335.0"/>
<use href="#m" x="1098.3" y="336.3"/>
<use href="#m" x="1098.3" y="337.6"/>
<use href="#m" x="1098.3" y="338.9"/>
<use href="#m" x="1098.3" y="340.1"/>
<use href="#m" x="1098.3" y="341.4"/>
<use href="#m" x="1098.3" y="342.7"/>
<use href="#m" x="1098.3" y="344.0"/>
<use href="#m" x="1098.3" y="345.3"/>
<use href="#m" x="1098.3" y="346.6"/>
<use href="#m" x="1098.3" y="347.9"/>
<use href="#m" x="1098.3" y="349.2"/>
<use href="#m" x="1098.3" y="350.5"/>
<use href="#m" x="1098.3" y="386.0"/>
<use href="#m" x="1098.3" y="393.0"/>
<use href="#m" x="1098.3" y="400.0"/>
<use href="#m" x="1098.3" y="443.0"/>
<use href="#m" x="1098.3" y="444.5"/>
<use href="#m" x="1098.3" y="445.9"/>
<use href="#m" x="1098.3" y="447.4"/>
<use href="#m" x="1098.3" y="448.8"/>
<use href="#m" x="1098.3" y="450.3"/>
<use href="#m" x="1098.3" y="451.7"/>
<use href="#m" x="1098.3" y="453.2"/>
<use href="#m" x="1098.3" y="454.6"/>
<use href="#m" x="1098.3" y="456.1"/>
<use href="#m" x="1098.3" y="457.5"/>
<use href="#m" x="1098.3" y="459.0"/>
<use href="#m" x="1098.3" y="496.0"/>
<use href="#m" x="1098.3" y="497.5"/>
<use href="#m" x="1098.3" y="498.9"/>
<use href="#m" x="1098.3" y="500.4"/>
<use href="#m" x="1098.3" y="501.8"/>
<use href="#m" x="1098.3" y="503.3"/>
<use href="#m" x="1098.3" y="504.7"/>
<use href="#m" x="1098.3" y="506.2"/>
<use href="#m" x="1098.3" y="507.6"/>
<use href="#m" x="1098.3" y="509.1"/>
<use href="#m" x="1098.3" y="510.5"/>
<use href="#m" x="1098.3" y="512.0"/>
<use href="#m" x="1098.3" y="549.0"/>
<use href="#m" x="1098.3" y="550.6"/>
<use href="#m" x="1098.3" y="552.3"/>
<use href="#m" x="1098.3" y="553.9"/>
<use href="#m" x="1098.3" y="555.5"/>
<use href="#m" x="1098.3" y="557.2"/>
<use href="#m" x="1098.3" y="558.8"/>
<use href="#m" x="1098.3" y="560.5"/>
<use href="#m" x="1098.3" y="562.1"/>
<use href="#m" x="1098.3" y="563.7"/>
<use href="#m" x="1098.3" y="565.4"/>
<use href="#m" x="1098.3" y="567.0"/>
<use href="#m" x="1098.3" y="575.0"/>
<use href="#m" x="1098.3" y="577.0"/>
<use href="#m" x="1098.3" y="578.9"/>
<use href="#m" x="1098.3" y="580.9"/>
<use href="#m" x="1098.3" y="582.8"/>
<use href="#m" x="1098.3" y="584.8"/>
<use href="#m" x="1098.3" y="586.8"/>
<use href="#m" x="1098.3" y="588.7"/>
<use href="#m" x="1098.3" y="590.7"/>
<use href="#m" x="1098.3" y="592.7"/>
<use href="#m" x="1098.3" y="594.6"/>
<use href="#m" x="1098.3" y="596.6"/>
<use href="#m" x="1098.3" y="598.5"/>
<use href="#m" x="1098.3" y="600.5"/>
<use href="#m" x="1098.3" y="602.5"/>
<use href="#m" x="1098.3" y="604.4"/>
<use href="#m" x="1098.3" y="606.4"/>
<use href="#m" x="1098.3" y="608.3"/>
<use href="#m" x="1098.3" y="610.3"/>
<use href="#m" x="1098.3" y="612.3"/>
<use href="#m" x="1098.3" y="614.2"/>
<use href="#m" x="1098.3" y="616.2"/>
<use href="#m" x="1098.3" y="618.2"/>
<use href="#m" x="1098.3" y="620.1"/>
<use href="#m" x="1098.3" y="622.1"/>
<use href="#m" x="1098.3" y="624.0"/>
<use href="#m" x="1098.3" y="626.0"/>
<use href="#m" x="1098.3" y="636.0"/>
<use href="#m" x="1098.3" y="637.9"/>
<use href="#m" x="1098.3" y="639.8"/>
<use href="#m" x="1098.3" y="641.6"/>
<use href="#m" x="1098.3" y="643.5"/>
<use href="#m" x="1098.3" y="645.4"/>
<use href="#m" x="1098.3" y="647.2"/>
<use href="#m" x="1098.3" y="649.1"/>
<use href="#m" x="1098.3" y="651.0"/>
<use href="#m" x="1098.3" y="662.0"/>
<use href="#m" x="1098.3" y="664.0"/>
<use href="#m" x="1098.3" y="666.0"/>
<use href="#m" x="1098.3" y="668.0"/>
<use href="#m" x="1098.3" y="670.0"/>
<use href="#m" x="1098.3" y="672.0"/>
<use href="#m" x="1098.3" y="674.0"/>
<use href="#m" x="1098.3" y="676.0"/>
<use href="#m" x="1098.3" y="688.0"/>
<use href="#m" x="1098.3" y="690.0"/>
<use href="#m" x="1098.3" y="692.0"/>
<use href="#m" x="1098.3" y="694.0"/>
<use href="#m" x="1098.3" y="696.0"/>
<use href="#m" x="1098.3" y="698.0"/>
<use href="#m" x="1098.3" y="700.0"/>
<use href="#m" x="1098.3" y="702.0"/>
<use href="#m" x="1098.3" y="704.0"/>
<use href="#m" x="1098.3" y="706.0"/>
<use href="#m" x="1098.3" y="708.0"/>
<use href="#m" x="1098.3" y="710.0"/>
<use href="#m" x="1098.3" y="712.0"/>
<use href="#m" x="1098.3" y="714.0"/>
<use href="#m" x="1098.3" y="716.0"/>
<use href="#m" x="1098.3" y="718.0"/>
<use href="#m" x="1098.3" y="720.0"/>
<use href="#m" x="1098.3" y="722.0"/>
<use href="#m" x="1098.3" y="724.0"/>
<use href="#m" x="1098.3" y="726.0"/>
<use href="#m" x="1098.3" y="728.0"/>
<use href="#m" x="1098.3" y="730.0"/>
<use href="#m" x="1098.3" y="732.0"/>
<use href="#m" x="1098.3" y="734.0"/>
<use href="#m" x="1098.3" y="736.0"/>
<use href="#m" x="1098.3" y="738.0"/>
<use href="#m" x="1098.3" y="740.0"/>
<use href="#m" x="1098.3" y="742.0"/>
<use href="#m" x="1098.3" y="744.0"/>
<use href="#m" x="1098.3" y="746.0"/>
<use href="#m" x="1098.3" y="748.0"/>
<use href="#m" x="1098.3" y="750.0"/>
<use href="#m" x="1098.3" y="752.0"/>
<use href="#m" x="1098.3" y="754.0"/>
<use href="#m" x="1098.3" y="756.0"/>
<use href="#m" x="1098.3" y="758.0"/>
<use href="#m" x="1098.3" y="760.0"/>
<use href="#m" x="1098.3" y="762.0"/>
<use href="#m" x="1098.3" y="764.0"/>
<use href="#m" x="1098.3" y="766.0"/>
<use href="#m" x="1098.3" y="768.0"/>
<use href="#m" x="1098.3" y="770.0"/>
<use href="#m" x="1098.3" y="772.0"/>
<use href="#m" x="1098.3" y="774.0"/>
<use href="#m" x="1098.3" y="776.0"/>
<use href="#m" x="1098.3" y="778.0"/>
<use href="#m" x="1098.3" y="780.0"/>
<use href="#m" x="1098.3" y="782.0"/>
<use href="#m" x="1098.3" y="784.0"/>
<use href="#m" x="1098.3" y="786.0"/>
<use href="#m" x="1098.3" y="788.0"/>
<use href="#m" x="1098.3" y="790.0"/>
<use href="#m" x="1098.3" y="792.0"/>
<use href="#m" x="1098.3" y="794.0"/>
<use href="#m" x="1098.3" y="796.0"/>
<use href="#m" x="1098.3" y="798.0"/>
<use href="#m" x="1098.3" y="800.0"/>
<use href="#m" x="1098.3" y="802.0"/>
<use href="#m" x="1098.3" y="804.0"/>
<use href="#m" x="1098.3" y="806.0"/>
<use href="#m" x="1098.3" y="808.0"/>
<use href="#m" x="1098.3" y="810.0"/>
<use href="#m" x="1098.3" y="812.0"/>
<use href="#m" x="1098.3" y="814.0"/>
<use href="#m" x="1098.3" y="816.0"/>
<use href="#m" x="1098.3" y="818.0"/>
<use href="#m" x="1098.3" y="820.0"/>
<use href="#m" x="1114.0" y="274.0"/>
<use href="#m" x="1114.0" y="283.0"/>
<use href="#m" x="1114.0" y="292.0"/>
<use href="#m" x="1114.0" y="418.0"/>
<use href="#m" x="1114.0" y="424.0"/>
<use href="#m" x="1114.0" y="456.0"/>
<use href="#m" x="1114.0" y="468.0"/>
<use href="#m" x="1114.0" y="480.0"/>
<use href="#m" x="1114.0" y="555.0"/>
<use href="#m" x="1114.0" y="568.0"/>
<use href="#m" x="1114.0" y="583.0"/>
<use href="#m" x="1114.0" y="585.0"/>
<use href="#m" x="1114.0" y="587.0"/>
<use href="#m" x="1114.0" y="589.0"/>
<use href="#m" x="1114.0" y="591.0"/>
<use href="#m" x="1114.0" y="593.0"/>
<use href="#m" x="1114.0" y="595.0"/>
<use href="#m" x="1114.0" y="597.0"/>
<use href="#m" x="1114.0" y="599.0"/>
<use href="#m" x="1114.0" y="601.0"/>
<use href="#m" x="1114.0" y="603.0"/>
<use href="#m" x="1114.0" y="605.0"/>
<use href="#m" x="1114.0" y="607.0"/>
<use href="#m" x="1114.0" y="609.0"/>
<use href="#m" x="1114.0" y="611.0"/>
<use href="#m" x="1114.0" y="613.0"/>
<use href="#m" x="1114.0" y="615.0"/>
<use href="#m" x="1114.0" y="617.0"/>
<use href="#m" x="1114.0" y="619.0"/>
<use href="#m" x="1114.0" y="621.0"/>
<use href="#m" x="1114.0" y="623.0"/>
<use href="#m" x="1114.0" y="625.0"/>
<use href="#m" x="1114.0" y="627.0"/>
<use href="#m" x="1114.0" y="629.0"/>
<use href="#m" x="1114.0" y="631.0"/>
<use href="#m" x="1114.0" y="633.0"/>
<use href="#m" x="1114.0" y="635.0"/>
<use href="#m" x="1114.0" y="637.0"/>
<use href="#m" x="1114.0" y="639.0"/>
<use href="#m" x="1114.0" y="641.0"/>
<use href="#m" x="1114.0" y="643.0"/>
<use href="#m" x="1114.0" y="645.0"/>
<use href="#m" x="1114.0" y="645.0"/>
<use href="#m" x="1114.0" y="653.0"/>
<use href="#m" x="1114.0" y="661.0"/>
<use href="#m" x="1114.0" y="669.0"/>
<use href="#m" x="1114.0" y="677.0"/>
<use href="#m" x="1114.0" y="681.0"/>
<use href="#m" x="1114.0" y="683.0"/>
<use href="#m" x="1114.0" y="685.0"/>
<use href="#m" x="1114.0" y="687.0"/>
<use href="#m" x="1114.0" y="688.9"/>
<use href="#m" x="1114.0" y="690.9"/>
<use href="#m" x="1114.0" y="692.9"/>
<use href="#m" x="1114.0" y="694.9"/>
<use href="#m" x="1114.0" y="696.9"/>
<use href="#m" x="1114.0" y="698.9"/>
<use href="#m" x="1114.0" y="700.8"/>
<use href="#m" x="1114.0" y="702.8"/>
<use href="#m" x="1114.0" y="704.8"/>
<use href="#m" x="1114.0" y="706.8"/>
<use href="#m" x="1114.0" y="708.8"/>
<use href="#m" x="1114.0" y="710.8"/>
<use href="#m" x="1114.0" y="712.7"/>
<use href="#m" x="1114.0" y="714.7"/>
<use href="#m" x="1114.0" y="716.7"/>
<use href="#m" x="1114.0" y="718.7"/>
<use href="#m" x="1114.0" y="720.7"/>
<use href="#m" x="1114.0" y="722.7"/>
<use href="#m" x="1114.0" y="724.6"/>
<use href="#m" x="1114.0" y="726.6"/>
<use href="#m" x="1114.0" y="728.6"/>
<use href="#m" x="1114.0" y="730.6"/>
<use href="#m" x="1114.0" y="732.6"/>
<use href="#m" x="1114.0" y="734.6"/>
<use href="#m" x="1114.0" y="736.5"/>
<use href="#m" x="1114.0" y="738.5"/>
<use href="#m" x="1114.0" y="740.5"/>
<use href="#m" x="1114.0" y="742.5"/>
<use href="#m" x="1114.0" y="742.5"/>
<use href="#m" x="1114.0" y="750.6"/>
<use href="#m" x="1114.0" y="758.8"/>
<use href="#m" x="1114.0" y="766.9"/>
<use href="#m" x="1114.0" y="775.0"/>
<use href="#m" x="1135.8" y="565.0"/>
<use href="#m" x="1135.8" y="492.5"/>
<use href="#m" x="1135.8" y="500.5"/>
<use href="#m" x="1135.8" y="510.6"/>
<use href="#m" x="1135.8" y="520.6"/>
<use href="#m" x="1135.8" y="540.7"/>
<use href="#m" x="1135.8" y="554.7"/>
<use href="#m" x="1135.8" y="566.8"/>
<use href="#m" x="1135.8" y="655.0"/>
<use href="#m" x="1135.8" y="758.4"/>
<use href="#m" x="1135.8" y="795.0"/>
<use href="#m" x="1135.8" y="805.0"/>
<use href="#m" x="1168.7" y="757.0"/>
<use href="#m" x="1168.7" y="762.1"/>
<use href="#m" x="1168.7" y="767.2"/>
<use href="#m" x="1168.7" y="772.3"/>
<use href="#m" x="1168.7" y="777.4"/>
<use href="#m" x="1168.7" y="782.5"/>
<use href="#m" x="1168.7" y="787.6"/>
<use href="#m" x="1168.7" y="792.7"/>
<use href="#m" x="1168.7" y="797.8"/>
<use href="#m" x="1168.7" y="802.9"/>
<use href="#m" x="1168.7" y="808.0"/>
<use href="#m" x="1192.1" y="293.8"/>
<use href="#m" x="1192.1" y="302.5"/>
<use href="#m" x="1192.1" y="318.5"/>
<use href="#m" x="1192.1" y="321.5"/>
<use href="#m" x="1192.1" y="346.0"/>
<use href="#m" x="1192.1" y="348.0"/>
<use href="#m" x="1192.1" y="350.0"/>
<use href="#m" x="1192.1" y="362.0"/>
<use href="#m" x="1192.1" y="364.0"/>
<use href="#m" x="1192.1" y="366.0"/>
<use href="#m" x="1192.1" y="405.5"/>
<use href="#m" x="1192.1" y="410.8"/>
<use href="#m" x="1192.1" y="416.2"/>
<use href="#m" x="1192.1" y="421.5"/>
<use href="#m" x="1192.1" y="463.5"/>
<use href="#m" x="1192.1" y="464.9"/>
<use href="#m" x="1192.1" y="466.4"/>
<use href="#m" x="1192.1" y="467.8"/>
<use href="#m" x="1192.1" y="469.3"/>
<use href="#m" x="1192.1" y="470.7"/>
<use href="#m" x="1192.1" y="472.2"/>
<use href="#m" x="1192.1" y="473.6"/>
<use href="#m" x="1192.1" y="475.1"/>
<use href="#m" x="1192.1" y="476.5"/>
<use href="#m" x="1192.1" y="516.5"/>
<use href="#m" x="1192.1" y="517.9"/>
<use href="#m" x="1192.1" y="519.4"/>
<use href="#m" x="1192.1" y="520.8"/>
<use href="#m" x="1192.1" y="522.3"/>
<use href="#m" x="1192.1" y="523.7"/>
<use href="#m" x="1192.1" y="525.2"/>
<use href="#m" x="1192.1" y="526.6"/>
<use href="#m" x="1192.1" y="528.1"/>
<use href="#m" x="1192.1" y="529.5"/>
<use href="#m" x="1192.1" y="574.5"/>
<use href="#m" x="1192.1" y="576.2"/>
<use href="#m" x="1192.1" y="577.8"/>
<use href="#m" x="1192.1" y="579.5"/>
<use href="#m" x="1192.1" y="581.2"/>
<use href="#m" x="1192.1" y="582.8"/>
<use href="#m" x="1192.1" y="584.5"/>
<use href="#m" x="1192.1" y="586.2"/>
<use href="#m" x="1192.1" y="587.8"/>
<use href="#m" x="1192.1" y="589.5"/>
<use href="#m" x="1192.1" y="628.5"/>
<use href="#m" x="1192.1" y="629.9"/>
<use href="#m" x="1192.1" y="631.2"/>
<use href="#m" x="1192.1" y="632.6"/>
<use href="#m" x="1192.1" y="634.0"/>
<use href="#m" x="1192.1" y="635.4"/>
<use href="#m" x="1192.1" y="636.8"/>
<use href="#m" x="1192.1" y="638.1"/>
<use href="#m" x="1192.1" y="639.5"/>
<use href="#m" x="1192.1" y="683.0"/>
<use href="#m" x="1192.1" y="685.7"/>
<use href="#m" x="1192.1" y="688.3"/>
<use href="#m" x="1192.1" y="691.0"/>
<use href="#m" x="1192.1" y="705.0"/>
<use href="#m" x="1192.1" y="707.1"/>
<use href="#m" x="1192.1" y="709.2"/>
<use href="#m" x="1192.1" y="711.4"/>
<use href="#m" x="1192.1" y="713.5"/>
<use href="#m" x="1192.1" y="715.6"/>
<use href="#m" x="1192.1" y="717.8"/>
<use href="#m" x="1192.1" y="719.9"/>
<use href="#m" x="1192.1" y="722.0"/>
<use href="#m" x="1192.1" y="732.0"/>
<use href="#m" x="1192.1" y="734.0"/>
<use href="#m" x="1192.1" y="736.0"/>
<use href="#m" x="1192.1" y="738.0"/>
<use href="#m" x="1192.1" y="740.0"/>
<use href="#m" x="1192.1" y="742.0"/>
<use href="#m" x="1192.1" y="744.0"/>
<use href="#m" x="1192.1" y="746.0"/>
<use href="#m" x="1192.1" y="748.0"/>
<use href="#m" x="1192.1" y="750.0"/>
<use href="#m" x="1192.1" y="752.0"/>
<use href="#m" x="1192.1" y="762.0"/>
<use href="#m" x="1192.1" y="764.0"/>
<use href="#m" x="1192.1" y="766.0"/>
<use href="#m" x="1192.1" y="768.0"/>
<use href="#m" x="1192.1" y="770.0"/>
<use href="#m" x="1192.1" y="772.0"/>
<use href="#m" x="1192.1" y="774.0"/>
<use href="#m" x="1192.1" y="776.0"/>
<use href="#m" x="1192.1" y="778.0"/>
<use href="#m" x="1192.1" y="780.0"/>
<use href="#m" x="1192.1" y="782.0"/>
<use href="#m" x="1192.1" y="784.0"/>
<use href="#m" x="1192.1" y="786.0"/>
<use href="#m" x="1192.1" y="788.0"/>
<use href="#m" x="1192.1" y="790.0"/>
<use href="#m" x="1192.1" y="792.0"/>
<use href="#m" x="1192.1" y="794.0"/>
<use href="#m" x="1192.1" y="796.0"/>
<use href="#m" x="1192.1" y="798.0"/>
<use href="#m" x="1192.1" y="800.0"/>
<use href="#m" x="1192.1" y="802.0"/>
<use href="#m" x="1192.1" y="804.0"/>
<use href="#m" x="1192.1" y="806.0"/>
<use href="#m" x="1192.1" y="808.0"/>
<use href="#m" x="1192.1" y="810.0"/>
<use href="#m" x="1192.1" y="818.0"/>
<use href="#m" x="1223.3" y="356.0"/>
<use href="#m" x="1223.3" y="362.7"/>
<use href="#m" x="1223.3" y="369.3"/>
<use href="#m" x="1223.3" y="376.0"/>
<use href="#m" x="1223.3" y="432.0"/>
<use href="#m" x="1223.3" y="438.0"/>
<use href="#m" x="1223.3" y="444.0"/>
<use href="#m" x="1223.3" y="450.0"/>
<use href="#m" x="1223.3" y="495.5"/>
<use href="#m" x="1223.3" y="501.5"/>
<use href="#m" x="1223.3" y="507.5"/>
<use href="#m" x="1223.3" y="513.5"/>
<use href="#m" x="1223.3" y="536.7"/>
<use href="#m" x="1223.3" y="560.8"/>
<use href="#m" x="1223.3" y="565.0"/>
<use href="#m" x="1223.3" y="606.0"/>
<use href="#m" x="1223.3" y="607.7"/>
<use href="#m" x="1223.3" y="609.4"/>
<use href="#m" x="1223.3" y="611.1"/>
<use href="#m" x="1223.3" y="612.9"/>
<use href="#m" x="1223.3" y="614.6"/>
<use href="#m" x="1223.3" y="616.3"/>
<use href="#m" x="1223.3" y="618.0"/>
<use href="#m" x="1223.3" y="643.0"/>
<use href="#m" x="1223.3" y="675.0"/>
<use href="#m" x="1223.3" y="736.0"/>
<use href="#m" x="1223.3" y="740.9"/>
<use href="#m" x="1223.3" y="745.9"/>
<use href="#m" x="1223.3" y="750.8"/>
<use href="#m" x="1223.3" y="755.7"/>
<use href="#m" x="1223.3" y="760.6"/>
<use href="#m" x="1223.3" y="765.6"/>
<use href="#m" x="1223.3" y="770.5"/>
<use href="#m" x="1223.3" y="775.4"/>
<use href="#m" x="1223.3" y="780.4"/>
<use href="#m" x="1223.3" y="785.3"/>
<use href="#m" x="1223.3" y="790.2"/>
<use href="#m" x="1223.3" y="795.1"/>
<use href="#m" x="1223.3" y="800.1"/>
<use href="#m" x="1223.3" y="805.0"/>
<use href="#m" x="1223.3" y="820.0"/>
<use href="#m" x="1267.1" y="532.7"/>
<use href="#m" x="1267.1" y="542.7"/>
<use href="#m" x="1267.1" y="550.7"/>
<use href="#m" x="1267.1" y="587.0"/>
<use href="#m" x="1267.1" y="597.0"/>
<use href="#m" x="1267.1" y="623.0"/>
<use href="#m" x="1267.1" y="672.5"/>
<use href="#m" x="1267.1" y="795.0"/>
<use href="#m" x="1267.1" y="810.0"/>
<use href="#m" x="1267.1" y="825.0"/>
<use href="#m" x="1267.1" y="840.0"/>
<use href="#m" x="1285.8" y="432.7"/>
<use href="#m" x="1285.8" y="434.5"/>
<use href="#m" x="1285.8" y="436.3"/>
<use href="#m" x="1285.8" y="438.2"/>
<use href="#m" x="1285.8" y="440.0"/>
<use href="#m" x="1285.8" y="441.8"/>
<use href="#m" x="1285.8" y="443.6"/>
<use href="#m" x="1285.8" y="445.4"/>
<use href="#m" x="1285.8" y="447.2"/>
<use href="#m" x="1285.8" y="449.1"/>
<use href="#m" x="1285.8" y="450.9"/>
<use href="#m" x="1285.8" y="452.7"/>
<use href="#m" x="1285.8" y="484.0"/>
<use href="#m" x="1285.8" y="486.1"/>
<use href="#m" x="1285.8" y="488.3"/>
<use href="#m" x="1285.8" y="490.4"/>
<use href="#m" x="1285.8" y="492.6"/>
<use href="#m" x="1285.8" y="494.7"/>
<use href="#m" x="1285.8" y="496.9"/>
<use href="#m" x="1285.8" y="499.0"/>
<use href="#m" x="1285.8" y="541.5"/>
<use href="#m" x="1285.8" y="545.5"/>
<use href="#m" x="1285.8" y="549.5"/>
<use href="#m" x="1285.8" y="599.0"/>
<use href="#m" x="1285.8" y="601.7"/>
<use href="#m" x="1285.8" y="604.3"/>
<use href="#m" x="1285.8" y="607.0"/>
<use href="#m" x="1285.8" y="652.0"/>
<use href="#m" x="1285.8" y="654.7"/>
<use href="#m" x="1285.8" y="657.3"/>
<use href="#m" x="1285.8" y="660.0"/>
<use href="#m" x="1285.8" y="708.0"/>
<use href="#m" x="1285.8" y="711.0"/>
<use href="#m" x="1285.8" y="714.0"/>
<use href="#m" x="1285.8" y="724.0"/>
<use href="#m" x="1285.8" y="727.0"/>
<use href="#m" x="1285.8" y="730.0"/>
<use href="#m" x="1285.8" y="739.0"/>
<use href="#m" x="1285.8" y="742.0"/>
<use href="#m" x="1285.8" y="745.0"/>
<use href="#m" x="1285.8" y="760.0"/>
<use href="#m" x="1285.8" y="762.0"/>
<use href="#m" x="1285.8" y="764.0"/>
<use href="#m" x="1285.8" y="766.0"/>
<use href="#m" x="1285.8" y="768.0"/>
<use href="#m" x="1285.8" y="770.0"/>
<use href="#m" x="1285.8" y="772.0"/>
<use href="#m" x="1285.8" y="774.0"/>
<use href="#m" x="1285.8" y="776.0"/>
<use href="#m" x="1285.8" y="778.0"/>
<use href="#m" x="1285.8" y="780.0"/>
<use href="#m" x="1285.8" y="782.0"/>
<use href="#m" x="1285.8" y="784.0"/>
<use href="#m" x="1285.8" y="786.0"/>
<use href="#m" x="1285.8" y="788.0"/>
<use href="#m" x="1285.8" y="790.0"/>
<use href="#m" x="1285.8" y="792.0"/>
<use href="#m" x="1285.8" y="794.0"/>
<use href="#m" x="1285.8" y="796.0"/>
<use href="#m" x="1285.8" y="798.0"/>
<use href="#m" x="1285.8" y="800.0"/>
<use href="#m" x="1285.8" y="802.0"/>
<use href="#m" x="1285.8" y="804.0"/>
<use href="#m" x="1285.8" y="806.0"/>
<use href="#m" x="1285.8" y="808.0"/>
<use href="#m" x="1285.8" y="810.0"/>
<use href="#m" x="1285.8" y="812.0"/>
<use href="#m" x="1285.8" y="814.0"/>
<use href="#m" x="1285.8" y="816.0"/>
<use href="#m" x="1285.8" y="818.0"/>
<use href="#m" x="1285.8" y="820.0"/>
<use href="#m" x="1285.8" y="822.0"/>
<use href="#m" x="1285.8" y="824.0"/>
<use href="#m" x="1285.8" y="826.0"/>
<use href="#m" x="1285.8" y="828.0"/>
<use href="#m" x="1285.8" y="830.0"/>
<use href="#m" x="1285.8" y="832.0"/>
<use href="#m" x="1285.8" y="834.0"/>
<use href="#m" x="1285.8" y="836.0"/>
<use href="#m" x="1285.8" y="838.0"/>
<use href="#m" x="1285.8" y="840.0"/>
<use href="#m" x="1332.7" y="521.0"/>
<use href="#m" x="1332.7" y="525.0"/>
<use href="#m" x="1332.7" y="529.0"/>
<use href="#m" x="1332.7" y="533.0"/>
<use href="#m" x="1332.7" y="652.0"/>
<use href="#m" x="1332.7" y="658.0"/>
<use href="#m" x="1332.7" y="664.0"/>
<use href="#m" x="1332.7" y="670.0"/>
<use href="#m" x="1332.7" y="693.0"/>
<use href="#m" x="1332.7" y="700.0"/>
<use href="#m" x="1332.7" y="707.0"/>
<use href="#m" x="1332.7" y="755.0"/>
<use href="#m" x="1332.7" y="762.3"/>
<use href="#m" x="1332.7" y="769.7"/>
<use href="#m" x="1332.7" y="777.0"/>
<use href="#m" x="1332.7" y="795.0"/>
<use href="#m" x="1332.7" y="805.0"/>
<use href="#m" x="1332.7" y="815.0"/>
<use href="#m" x="1332.7" y="826.0"/>
<use href="#m" x="1332.7" y="828.0"/>
<use href="#m" x="1332.7" y="830.0"/>
<use href="#m" x="1332.7" y="832.0"/>
<use href="#m" x="1332.7" y="834.0"/>
<use href="#m" x="1332.7" y="836.0"/>
<use href="#m" x="1332.7" y="838.0"/>
<use href="#m" x="1332.7" y="840.0"/>
<use href="#m" x="1332.7" y="842.0"/>
<use href="#m" x="1332.7" y="844.0"/>
<use href="#m" x="1332.7" y="846.0"/>
<use href="#m" x="1332.7" y="848.0"/>
<use href="#m" x="1332.7" y="850.0"/>
<use href="#m" x="1379.6" y="521.7"/>
<use href="#m" x="1379.6" y="574.0"/>
<use href="#m" x="1379.6" y="575.4"/>
<use href="#m" x="1379.6" y="576.9"/>
<use href="#m" x="1379.6" y="578.3"/>
<use href="#m" x="1379.6" y="579.7"/>
<use href="#m" x="1379.6" y="581.1"/>
<use href="#m" x="1379.6" y="582.6"/>
<use href="#m" x="1379.6" y="584.0"/>
<use href="#m" x="1379.6" y="627.0"/>
<use href="#m" x="1379.6" y="629.7"/>
<use href="#m" x="1379.6" y="632.3"/>
<use href="#m" x="1379.6" y="635.0"/>
<use href="#m" x="1379.6" y="687.6"/>
<use href="#m" x="1379.6" y="738.0"/>
<use href="#m" x="1379.6" y="740.7"/>
<use href="#m" x="1379.6" y="743.3"/>
<use href="#m" x="1379.6" y="746.0"/>
<use href="#m" x="1379.6" y="773.0"/>
<use href="#m" x="1379.6" y="775.7"/>
<use href="#m" x="1379.6" y="778.3"/>
<use href="#m" x="1379.6" y="781.0"/>
<use href="#m" x="1379.6" y="790.0"/>
<use href="#m" x="1379.6" y="792.0"/>
<use href="#m" x="1379.6" y="794.0"/>
<use href="#m" x="1379.6" y="796.0"/>
<use href="#m" x="1379.6" y="798.0"/>
<use href="#m" x="1379.6" y="800.0"/>
<use href="#m" x="1379.6" y="802.0"/>
<use href="#m" x="1379.6" y="804.0"/>
<use href="#m" x="1379.6" y="806.0"/>
<use href="#m" x="1379.6" y="808.0"/>
<use href="#m" x="1379.6" y="810.0"/>
<use href="#m" x="1379.6" y="812.0"/>
<use href="#m" x="1379.6" y="814.0"/>
<use href="#m" x="1379.6" y="816.0"/>
<use href="#m" x="1379.6" y="818.0"/>
<use href="#m" x="1379.6" y="820.0"/>
<use href="#m" x="1379.6" y="822.0"/>
<use href="#m" x="1379.6" y="824.0"/>
<use href="#m" x="1379.6" y="826.0"/>
<use href="#m" x="1379.6" y="833.5"/>
<use href="#m" x="1379.6" y="846.5"/>
<use href="#m" x="1398.3" y="642.7"/>
<use href="#m" x="1398.3" y="651.7"/>
<use href="#m" x="1398.3" y="664.7"/>
<use href="#m" x="1398.3" y="710.5"/>
<use href="#m" x="1398.3" y="841.6"/>
<use href="#m" x="1398.3" y="847.6"/>
<use href="#m" x="1398.3" y="858.2"/>
<use href="#m" x="1442.1" y="625.4"/>
<use href="#m" x="1442.1" y="684.7"/>
<use href="#m" x="1442.1" y="687.4"/>
<use href="#m" x="1442.1" y="690.0"/>
<use href="#m" x="1442.1" y="692.7"/>
<use href="#m" x="1442.1" y="763.3"/>
<use href="#m" x="1442.1" y="797.2"/>
<use href="#m" x="1442.1" y="809.1"/>
<use href="#m" x="1442.1" y="815.1"/>
<use href="#m" x="1442.1" y="825.6"/>
<use href="#m" x="1442.1" y="847.0"/>
<use href="#m" x="1442.1" y="852.0"/>
<use href="#m" x="1442.1" y="857.0"/>
<use href="#m" x="1473.3" y="664.7"/>
<use href="#m" x="1473.3" y="715.3"/>
<use href="#m" x="1473.3" y="719.3"/>
<use href="#m" x="1473.3" y="723.3"/>
<use href="#m" x="1473.3" y="809.7"/>
<use href="#m" x="1473.3" y="815.7"/>
<use href="#m" x="1473.3" y="830.9"/>
<use href="#m" x="1473.3" y="843.2"/>
<use href="#m" x="1473.3" y="849.2"/>
<use href="#m" x="1473.3" y="861.6"/>
<use href="#m" x="1496.8" y="855.0"/>
<use href="#m" x="1496.8" y="860.0"/>
<use href="#m" x="1496.8" y="865.0"/>
<use href="#m" x="1529.6" y="772.9"/>
<use href="#m" x="1529.6" y="877.0"/>
<use href="#m" x="1551.4" y="795.2"/>
<use href="#m" x="1551.4" y="857.4"/>
<use href="#m" x="1551.4" y="882.6"/>
<use href="#m" x="1567.1" y="811.3"/>
<use href="#m" x="1567.1" y="856.7"/>
<use href="#m" x="1567.1" y="877.0"/>
</g>
<g fill="#0000ff" fill-opacity="0.7" stroke="#0000cd" stroke-opacity="0.7" stroke-width="4.5">
<circle cx="566.8" cy="672.4" r="20.2"/>
<circle cx="566.8" cy="729.0" r="20.2"/>
<circle cx="676.3" cy="717.8" r="20.2"/>
<circle cx="785.9" cy="645.0" r="20.2"/>
<circle cx="785.9" cy="650.0" r="20.2"/>
<circle cx="785.9" cy="671.0" r="20.2"/>
<circle cx="785.9" cy="756.0" r="20.2"/>
<circle cx="785.9" cy="769.0" r="20.2"/>
<circle cx="873.4" cy="402.3" r="20.2"/>
<circle cx="873.4" cy="419.0" r="20.2"/>
<circle cx="873.4" cy="763.0" r="20.2"/>
<circle cx="873.4" cy="770.0" r="20.2"/>
<circle cx="873.4" cy="776.0" r="20.2"/>
<circle cx="1004.6" cy="417.6" r="20.2"/>
<circle cx="1004.6" cy="665.0" r="20.2"/>
<circle cx="1004.6" cy="669.0" r="20.2"/>
<circle cx="1004.6" cy="710.4" r="20.2"/>
<circle cx="1004.6" cy="740.0" r="20.2"/>
<circle cx="1004.6" cy="752.0" r="20.2"/>
<circle cx="1004.6" cy="765.0" r="20.2"/>
<circle cx="1004.6" cy="778.0" r="20.2"/>
<circle cx="1004.6" cy="789.0" r="20.2"/>
<circle cx="1135.8" cy="441.6" r="20.2"/>
<circle cx="1135.8" cy="457.0" r="20.2"/>
<circle cx="1135.8" cy="800.0" r="20.2"/>
<circle cx="1135.8" cy="810.0" r="20.2"/>
<circle cx="1223.3" cy="708.0" r="20.2"/>
<circle cx="1223.3" cy="716.0" r="20.2"/>
<circle cx="1223.3" cy="818.0" r="20.2"/>
<circle cx="1223.3" cy="830.0" r="20.2"/>
<circle cx="1332.7" cy="811.7" r="20.2"/>
<circle cx="1441.8" cy="854.2" r="20.2"/>
</g>
<line x1="348.2" y1="717.9" x2="1661.1" y2="906.8" stroke="#000" stroke-width="8.33" stroke-dasharray="30.78 13.31" stroke-dashoffset="0.75"/>
<circle cx="348.2" cy="717.9" r="22.9" fill="#000"/>
<circle cx="1661.1" cy="906.8" r="22.9" fill="#000"/>
</g>
<rect x="308.4" y="52.9" width="1391.5" height="903.8000000000001" fill="none" stroke="#000" stroke-width="3.33" stroke-linejoin="miter" stroke-linecap="square"/>
<path d="M348.40,956.7V971.28M610.88,956.7V971.28M873.36,956.7V971.28M1135.84,956.7V971.28M1398.32,956.7V971.28M1660.80,956.7V971.28M308.4,52.90H293.82M308.4,233.66H293.82M308.4,414.42H293.82M308.4,595.18H293.82M308.4,775.94H293.82M308.4,956.70H293.82" stroke="#000" stroke-width="3.33" fill="none"/>
<g font-family="DejaVu Sans, Liberation Sans, sans-serif" font-size="62.5" fill="#000">
<text x="348.40" y="1033" text-anchor="middle">0.0</text>
<text x="610.88" y="1033" text-anchor="middle">0.2</text>
<text x="873.36" y="1033" text-anchor="middle">0.4</text>
<text x="1135.84" y="1033" text-anchor="middle">0.6</text>
<text x="1398.32" y="1033" text-anchor="middle">0.8</text>
<text x="1660.80" y="1033" text-anchor="middle">1.0</text>
<text x="280" y="76.10" text-anchor="end">−0.7</text>
<text x="280" y="256.86" text-anchor="end">−0.8</text>
<text x="280" y="437.62" text-anchor="end">−0.9</text>
<text x="280" y="618.38" text-anchor="end">−1.0</text>
<text x="280" y="799.14" text-anchor="end">−1.1</text>
<text x="280" y="979.90" text-anchor="end">−1.2</text>
<text x="348.40" y="1103" text-anchor="middle">InSe</text>
<text x="1660.80" y="1103" text-anchor="middle">GaSe</text>
</g>
<text font-family="DejaVu Sans, Liberation Sans, sans-serif" font-size="83.33" x="1004" y="1126.5" text-anchor="middle">Ga concentration</text>
<text font-family="DejaVu Sans, Liberation Sans, sans-serif" font-size="83.33" transform="translate(94.7,504.5) rotate(-90)" text-anchor="middle">Formation Energy (eV)</text>
<rect x="1123.3" y="78" width="551.8" height="234" rx="8.5" ry="8.5" fill="#fff" fill-opacity="0.8" stroke="#cccccc" stroke-opacity="0.8" stroke-width="3.6"/>
<g stroke="#708090" stroke-opacity="0.5" stroke-width="4.17"><use href="#m" x="1193.6" y="117.8"/></g>
<circle cx="1193.6" cy="191" r="20.2" fill="#0000ff" fill-opacity="0.7" stroke="#0000cd" stroke-opacity="0.7" stroke-width="4.5"/>
<line x1="1143.6" y1="264.2" x2="1243.6" y2="264.2" stroke="#000" stroke-width="8.33" stroke-dasharray="30.78 13.31" stroke-dashoffset="0.75"/>
<circle cx="1193.6" cy="264.2" r="22.9" fill="#000"/>
<g font-family="DejaVu Sans, Liberation Sans, sans-serif" font-size="50" fill="#000">
<text x="1282.5" y="134.5">CE predicted</text>
<text x="1282.5" y="207.7">DFT calc struct</text>
<text x="1282.5" y="281.6">DFT calc gs</text>
</g>
</svg>
</body></html>
